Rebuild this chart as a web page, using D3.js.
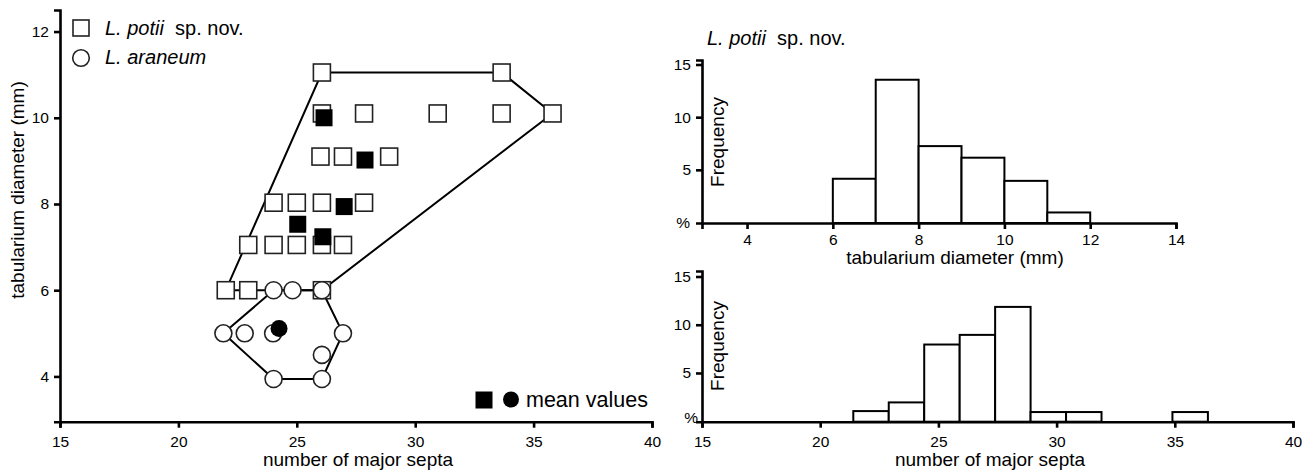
<!DOCTYPE html>
<html><head><meta charset="utf-8">
<script src="https://cdn.jsdelivr.net/npm/d3@7"></script>
<style>
body{margin:0;background:#fff;}
text{font-family:"Liberation Sans",Arial,sans-serif;fill:#000;}
</style></head>
<body><svg id="c" width="1306" height="473"></svg>
<script>
// ---------- data ----------
const potiiX = [26.06, 33.65, 26.06, 27.84, 30.95, 33.65, 35.8, 26.0, 26.95, 28.9, 24.02, 25.0, 26.06, 27.84, 22.95, 24.02, 25.0, 26.06, 26.95, 22.0, 22.95, 26.06];
const potiiY = [11.05, 11.05, 10.1, 10.1, 10.1, 10.1, 10.1, 9.1, 9.1, 9.1, 8.03, 8.03, 8.03, 8.03, 7.05, 7.05, 7.05, 7.05, 7.05, 6.0, 6.0, 6.0];
const araneumX = [24.02, 24.82, 26.06, 21.9, 22.8, 24.0, 26.95, 26.06, 24.02, 26.06];
const araneumY = [6.0, 6.0, 6.0, 5.0, 5.0, 5.0, 5.0, 4.5, 3.94, 3.94];
const potiiMeanX = [26.15, 27.88, 27.0, 25.04, 26.1];
const potiiMeanY = [10.0, 9.02, 7.94, 7.53, 7.24];
const araneumMeanX = [24.25];
const araneumMeanY = [5.11];

const xTicks = [15, 20, 25, 30, 35, 40];
const yTicks = [4, 6, 8, 10, 12];

const diamEdges = [6, 7, 8, 9, 10, 11, 12];
const diamFreq = [4.2, 13.6, 7.3, 6.2, 4.0, 1.0];
const diamTicks = [4, 6, 8, 10, 12, 14];

const septaStart = [21.4, 22.9, 24.4, 25.9, 27.4, 28.9, 30.4, 34.9];
const septaEnd   = [22.9, 24.4, 25.9, 27.4, 28.9, 30.4, 31.9, 36.4];
const septaFreq  = [1.1, 2.0, 8.0, 9.0, 11.9, 1.0, 1.0, 1.0];
const septaTicks = [15, 20, 25, 30, 35, 40];
const freqTicks = [5, 10, 15];

// ---------- drawing ----------
const svg = d3.select("#c");
svg.append("rect").attr("width",1306).attr("height",473).attr("fill","#fff");

const TICKFS = 15.5;
function styleAxis(g){
  g.attr("font-size", null).attr("font-family", null);
  g.select(".domain").attr("stroke","#000").attr("stroke-width",2.6);
  g.selectAll(".tick line").attr("stroke","#000").attr("stroke-width",2.6);
  g.selectAll(".tick text").style("font-size",TICKFS+"px").attr("fill","#000")
    .style("font-family","'Liberation Sans',Arial,sans-serif");
}

// ---- scatter ----
const sx = d3.scaleLinear().domain([15,40]).range([60,652]);
const sy = d3.scaleLinear().domain([2.95,12.5]).range([421.7,10]);

const gx = svg.append("g").attr("transform","translate(0,421.7)")
  .call(d3.axisBottom(sx).tickValues(xTicks).tickSizeOuter(0).tickSize(6).tickPadding(8));
styleAxis(gx);
const gy = svg.append("g").attr("transform","translate(60,0)")
  .call(d3.axisLeft(sy).tickValues(yTicks).tickSizeOuter(0).tickSize(6).tickPadding(5));
styleAxis(gy);

svg.append("text").attr("x",358).attr("y",466).attr("text-anchor","middle")
  .style("font-size","19px").text("number of major septa");
svg.append("text").attr("transform","translate(24,190) rotate(-90)").attr("text-anchor","middle")
  .style("font-size","19px").text("tabularium diameter  (mm)");

const potii = potiiX.map((x,i)=>[x,potiiY[i]]);
const aran = araneumX.map((x,i)=>[x,araneumY[i]]);
const line = d3.line().x(d=>sx(d[0])).y(d=>sy(d[1]));
[potii, aran].forEach(pts=>{
  const hull = d3.polygonHull(pts);
  svg.append("path").attr("d", line(hull.concat([hull[0]])))
    .attr("fill","none").attr("stroke","#000").attr("stroke-width",2);
});

const S = 17, R = 8.5;
svg.selectAll(".sq").data(potii).join("rect")
  .attr("x",d=>sx(d[0])-S/2).attr("y",d=>sy(d[1])-S/2).attr("width",S).attr("height",S)
  .attr("fill","#fff").attr("stroke","#222").attr("stroke-width",1.6);
svg.selectAll(".ci").data(aran).join("circle")
  .attr("cx",d=>sx(d[0])).attr("cy",d=>sy(d[1])).attr("r",R)
  .attr("fill","#fff").attr("stroke","#222").attr("stroke-width",1.6);
svg.selectAll(".msq").data(potiiMeanX.map((x,i)=>[x,potiiMeanY[i]])).join("rect")
  .attr("x",d=>sx(d[0])-S/2).attr("y",d=>sy(d[1])-S/2).attr("width",S).attr("height",S)
  .attr("fill","#000");
svg.selectAll(".mci").data(araneumMeanX.map((x,i)=>[x,araneumMeanY[i]])).join("circle")
  .attr("cx",d=>sx(d[0])).attr("cy",d=>sy(d[1])).attr("r",R).attr("fill","#000");

// legend
svg.append("rect").attr("x",73).attr("y",20).attr("width",16).attr("height",16)
  .attr("fill","#fff").attr("stroke","#222").attr("stroke-width",1.6);
svg.append("circle").attr("cx",81).attr("cy",58).attr("r",8.3)
  .attr("fill","#fff").attr("stroke","#222").attr("stroke-width",1.6);
let t1 = svg.append("text").attr("x",105).attr("y",35).style("font-size","20px");
t1.append("tspan").attr("font-style","italic").text("L. potii");
t1.append("tspan").text("\u00a0 sp. nov.");
svg.append("text").attr("x",105).attr("y",64).style("font-size","20px")
  .attr("font-style","italic").text("L. araneum");

svg.append("rect").attr("x",475.5).attr("y",391.5).attr("width",17).attr("height",17).attr("fill","#000");
svg.append("circle").attr("cx",511).attr("cy",399.5).attr("r",8).attr("fill","#000");
svg.append("text").attr("x",526).attr("y",407).style("font-size","21.5px").text("mean values");

// ---- histogram 1 ----
const hx1 = d3.scaleLinear().domain([2.95,14]).range([702,1176]);
const hy1 = d3.scaleLinear().domain([0,15]).range([223,65]);
const bars1 = diamFreq.map((f,i)=>({x0:diamEdges[i],x1:diamEdges[i+1],f}));
svg.selectAll(".b1").data(bars1).join("rect")
  .attr("x",d=>hx1(d.x0)).attr("width",d=>hx1(d.x1)-hx1(d.x0))
  .attr("y",d=>hy1(d.f)).attr("height",d=>hy1(0)-hy1(d.f))
  .attr("fill","#fff").attr("stroke","#000").attr("stroke-width",2);
const ax1 = svg.append("g").attr("transform","translate(0,223)")
  .call(d3.axisBottom(hx1).tickValues(diamTicks).tickSizeOuter(0).tickSize(6).tickPadding(5));
styleAxis(ax1);
const ay1 = svg.append("g").attr("transform","translate(702,0)")
  .call(d3.axisLeft(hy1.copy().domain([0,15.5]).range([223,60])).tickValues(freqTicks).tickSizeOuter(0).tickSize(6).tickPadding(5));
ay1.selectAll(".tick").attr("transform",d=>`translate(0,${hy1(d)})`);
styleAxis(ay1);
svg.append("text").attr("x",690).attr("y",228).attr("text-anchor","end").style("font-size",TICKFS+"px").text("%");
svg.append("text").attr("transform","translate(724,142) rotate(-90)").attr("text-anchor","middle")
  .style("font-size","19px").text("Frequency");
svg.append("text").attr("x",955).attr("y",264).attr("text-anchor","middle")
  .style("font-size","19px").text("tabularium diameter  (mm)");
let t2 = svg.append("text").attr("x",707).attr("y",45).style("font-size","20px");
t2.append("tspan").attr("font-style","italic").text("L. potii");
t2.append("tspan").text("\u00a0 sp. nov.");

// ---- histogram 2 ----
const hx2 = d3.scaleLinear().domain([15,40]).range([702,1293]);
const hy2 = d3.scaleLinear().domain([0,15]).range([421.7,277]);
const bars2 = septaFreq.map((f,i)=>({x0:septaStart[i],x1:septaEnd[i],f}));
svg.selectAll(".b2").data(bars2).join("rect")
  .attr("x",d=>hx2(d.x0)).attr("width",d=>hx2(d.x1)-hx2(d.x0))
  .attr("y",d=>hy2(d.f)).attr("height",d=>hy2(0)-hy2(d.f))
  .attr("fill","#fff").attr("stroke","#000").attr("stroke-width",2);
const ax2 = svg.append("g").attr("transform","translate(0,421.7)")
  .call(d3.axisBottom(hx2).tickValues(septaTicks).tickSizeOuter(0).tickSize(6).tickPadding(8));
styleAxis(ax2);
const ay2 = svg.append("g").attr("transform","translate(702,0)")
  .call(d3.axisLeft(hy2.copy().domain([0,15.6]).range([421.7,271])).tickValues(freqTicks).tickSizeOuter(0).tickSize(6).tickPadding(5));
ay2.selectAll(".tick").attr("transform",d=>`translate(0,${hy2(d)})`);
styleAxis(ay2);
svg.append("text").attr("x",698).attr("y",423).attr("text-anchor","end").style("font-size",TICKFS+"px").text("%");
svg.append("text").attr("transform","translate(724,346) rotate(-90)").attr("text-anchor","middle")
  .style("font-size","19px").text("Frequency");
svg.append("text").attr("x",990).attr("y",466).attr("text-anchor","middle")
  .style("font-size","19px").text("number of major septa");
</script></body></html>
